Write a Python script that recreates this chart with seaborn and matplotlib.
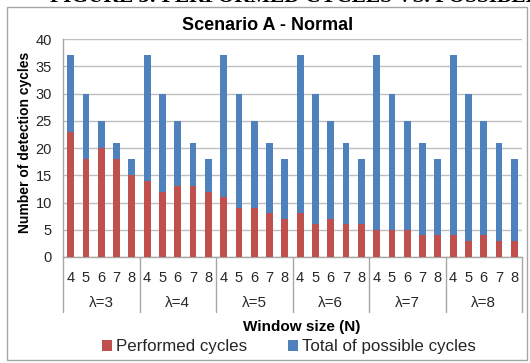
import matplotlib
matplotlib.use("Agg")
import matplotlib.pyplot as plt
import matplotlib.transforms as mtransforms
from matplotlib.patches import Rectangle, Patch
import seaborn as sns
import pandas as pd

lambdas = ["λ=3", "λ=4", "λ=5", "λ=6", "λ=7", "λ=8"]
window_sizes = [4, 5, 6, 7, 8]
total_cycles = [37, 30, 25, 21, 18]
performed = {
    "λ=3": [23, 18, 20, 18, 15],
    "λ=4": [14, 12, 13, 13, 12],
    "λ=5": [11, 9, 9, 8, 7],
    "λ=6": [8, 6, 7, 6, 6],
    "λ=7": [5, 5, 5, 4, 4],
    "λ=8": [4, 3, 4, 3, 3],
}

rows = []
for lam in lambdas:
    for n, tot, perf in zip(window_sizes, total_cycles, performed[lam]):
        rows.append({"slot": f"{lam}|{n}", "lam": lam, "N": n, "total": tot, "performed": perf})
df = pd.DataFrame(rows)
order = list(df["slot"])

sns.set_theme(style="white")
plt.rcParams["font.family"] = ["Liberation Sans", "DejaVu Sans"]

W, H = 530, 363
fig = plt.figure(figsize=(W / 100, H / 100), dpi=100)
fig.patch.set_facecolor("white")

x0, x1 = 63, 522
y0, y1 = 39, 257
ax = fig.add_axes([x0 / W, 1 - y1 / H, (x1 - x0) / W, (y1 - y0) / H])

blue = "#4F81BD"
red = "#C0504D"
grid = "#BFBFBF"

sns.barplot(data=df, x="slot", y="total", order=order, color=blue, width=0.44,
            ax=ax, saturation=1, linewidth=0, zorder=2)
sns.barplot(data=df, x="slot", y="performed", order=order, color=red, width=0.44,
            ax=ax, saturation=1, linewidth=0, zorder=3)

ax.set_xlim(-0.5, len(order) - 0.5)
ax.set_ylim(0, 40)
ax.set_yticks(range(0, 41, 5))
ax.yaxis.grid(True, color=grid, linewidth=1, zorder=0)
ax.set_axisbelow(True)
for s in ["top", "right"]:
    ax.spines[s].set_visible(False)
for s in ["left", "bottom"]:
    ax.spines[s].set_color("#A6A6A6")
    ax.spines[s].set_linewidth(1)

ax.set_xticks(range(len(order)))
ax.set_xticklabels([str(n) for n in df["N"]], fontsize=10.5, color="#262626")
ax.tick_params(axis="x", length=0, pad=10)
ax.tick_params(axis="y", length=0, pad=8, labelsize=10.5, labelcolor="#262626")
ax.set_xlabel("")
ax.set_ylabel("")

trans = mtransforms.blended_transform_factory(ax.transData, ax.transAxes)
ph = (y1 - y0)
sep_depth = (312 - y1) / ph
for i in range(len(lambdas) + 1):
    xs = i * len(window_sizes) - 0.5
    ax.plot([xs, xs], [0, -sep_depth], transform=trans, color="#A6A6A6",
            linewidth=1, clip_on=False)
for i, lam in enumerate(lambdas):
    xc = i * len(window_sizes) + (len(window_sizes) - 1) / 2
    ax.text(xc, -(303 - y1) / ph, lam, transform=trans, ha="center", va="center",
            fontsize=11, color="#262626")

fig.text(302 / W, 1 - 327 / H, "Window size (N)", ha="center", va="center",
         fontsize=11, fontweight="bold", color="black")
fig.text(25 / W, 1 - 142 / H, "Number of detection cycles", rotation=90,
         ha="center", va="center", fontsize=10, fontweight="bold", color="black")
fig.text(268 / W, 1 - 25.5 / H, "Scenario A - Normal", ha="center", va="center",
         fontsize=13, fontweight="bold", color="black")

handles = [Patch(facecolor=red, edgecolor="none", label="Performed cycles"),
           Patch(facecolor=blue, edgecolor="none", label="Total of possible cycles")]
fig.legend(handles=handles, loc="center", bbox_to_anchor=(289 / W, 1 - 347 / H),
           ncol=2, frameon=False, fontsize=12.2, handlelength=0.6, handleheight=0.6,
           handletextpad=0.25, columnspacing=2.4, borderaxespad=0, borderpad=0)

# outer chart frame
fig.add_artist(Rectangle((7 / W, 1 - 360 / H), (527 - 7) / W, (360 - 7) / H,
                         transform=fig.transFigure, fill=False,
                         edgecolor="#A6A6A6", linewidth=1))

# caption above the chart, cut by the top edge as in the reference
fig.text(50 / W, 1 - 1.5 / H, "FIGURE 3: PERFORMED CYCLES VS. POSSIBLE CYCLES",
         ha="left", va="baseline", fontsize=15.5, fontweight="bold",
         family=["Liberation Serif", "DejaVu Serif"], color="black")

fig.savefig("out.png", dpi=100, facecolor="white")
